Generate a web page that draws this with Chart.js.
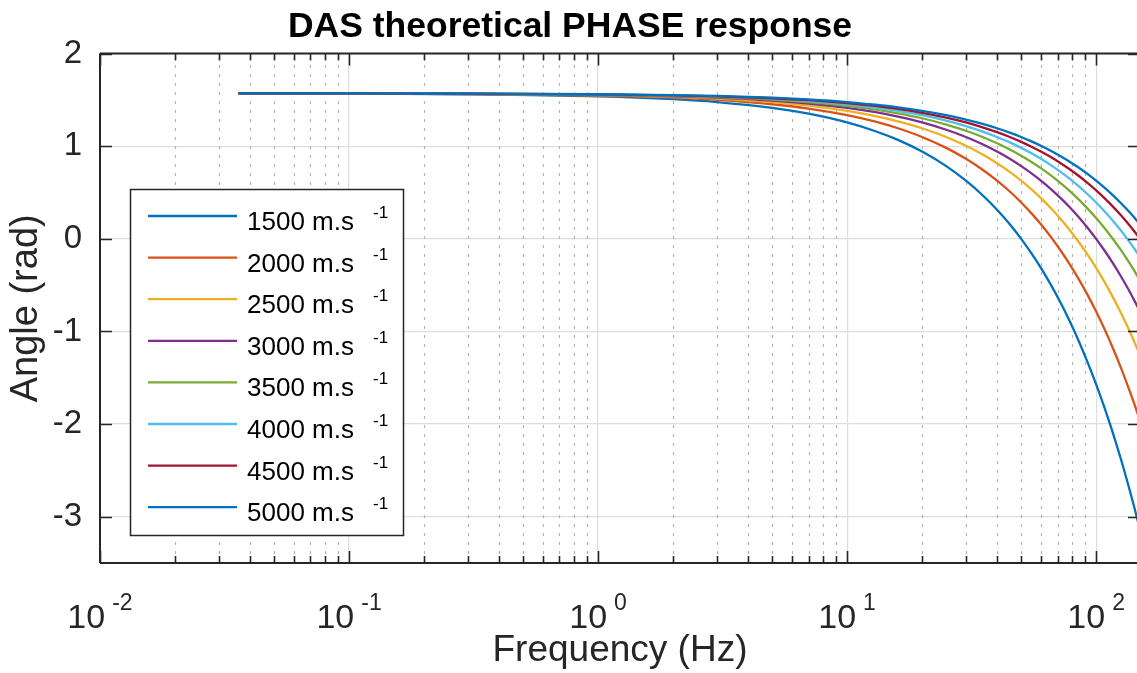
<!DOCTYPE html>
<html>
<head>
<meta charset="utf-8">
<script src="https://cdn.jsdelivr.net/npm/chart.js@4.4.1/dist/chart.umd.min.js"></script>
<style>
html, body { margin: 0; padding: 0; background: #ffffff; overflow: hidden; width: 1137px; height: 673px; }
#wrap { position: absolute; left: 0; top: 0; width: 1140px; height: 673px; }
</style>
</head>
<body>
<div id="wrap"><canvas id="chart" width="1140" height="673"></canvas></div>
<script>
// ---------- data ----------
const frequencyHz = [0.036, 0.1, 0.3, 1, 2, 3, 5, 7, 10, 13, 16, 20, 25, 30, 35, 40, 45, 50, 55, 60, 66, 72, 78, 85, 92, 100, 108, 116, 125, 134, 142, 150];

const speeds = [1500, 2000, 2500, 3000, 3500, 4000, 4500, 5000];
const speedUnit = 'm.s';
const speedUnitExponent = '-1';

const phase1500 = [1.570, 1.568, 1.561, 1.539, 1.508, 1.477, 1.414, 1.351, 1.257, 1.162, 1.068, 0.942, 0.785, 0.628, 0.471, 0.314, 0.157, 0.000, -0.157, -0.314, -0.503, -0.691, -0.880, -1.100, -1.320, -1.571, -1.822, -2.073, -2.356, -2.639, -2.890, -3.142];
const phase2000 = [1.570, 1.568, 1.564, 1.547, 1.524, 1.500, 1.453, 1.406, 1.335, 1.265, 1.194, 1.100, 0.982, 0.864, 0.746, 0.628, 0.511, 0.393, 0.275, 0.157, 0.016, -0.126, -0.267, -0.432, -0.597, -0.785, -0.974, -1.162, -1.374, -1.587, -1.775, -1.964];
const phase2500 = [1.570, 1.569, 1.565, 1.552, 1.533, 1.514, 1.477, 1.439, 1.382, 1.326, 1.269, 1.194, 1.100, 1.005, 0.911, 0.817, 0.723, 0.628, 0.534, 0.440, 0.327, 0.214, 0.101, -0.031, -0.163, -0.314, -0.465, -0.616, -0.785, -0.955, -1.106, -1.257];
const phase3000 = [1.570, 1.569, 1.566, 1.555, 1.539, 1.524, 1.492, 1.461, 1.414, 1.367, 1.319, 1.257, 1.178, 1.100, 1.021, 0.942, 0.864, 0.785, 0.707, 0.628, 0.534, 0.440, 0.346, 0.236, 0.126, 0.000, -0.126, -0.251, -0.393, -0.534, -0.660, -0.785];
const phase3500 = [1.570, 1.569, 1.567, 1.557, 1.544, 1.530, 1.504, 1.477, 1.436, 1.396, 1.355, 1.302, 1.234, 1.167, 1.100, 1.032, 0.965, 0.898, 0.830, 0.763, 0.682, 0.601, 0.521, 0.426, 0.332, 0.224, 0.117, 0.009, -0.112, -0.233, -0.341, -0.449];
const phase4000 = [1.570, 1.570, 1.567, 1.559, 1.547, 1.535, 1.512, 1.488, 1.453, 1.418, 1.382, 1.335, 1.276, 1.217, 1.158, 1.100, 1.041, 0.982, 0.923, 0.864, 0.793, 0.723, 0.652, 0.569, 0.487, 0.393, 0.298, 0.204, 0.098, -0.008, -0.102, -0.196];
const phase4500 = [1.570, 1.570, 1.568, 1.560, 1.550, 1.539, 1.518, 1.497, 1.466, 1.435, 1.403, 1.361, 1.309, 1.257, 1.204, 1.152, 1.100, 1.047, 0.995, 0.942, 0.880, 0.817, 0.754, 0.681, 0.607, 0.524, 0.440, 0.356, 0.262, 0.168, 0.084, 0.000];
const phase5000 = [1.570, 1.570, 1.568, 1.561, 1.552, 1.543, 1.524, 1.505, 1.477, 1.448, 1.420, 1.382, 1.335, 1.288, 1.241, 1.194, 1.147, 1.100, 1.052, 1.005, 0.949, 0.892, 0.836, 0.770, 0.704, 0.628, 0.553, 0.478, 0.393, 0.308, 0.233, 0.157];

const yTickValues = [-3, -2, -1, 0, 1, 2];
const xMajorTicks = [0.01, 0.1, 1, 10, 100];
const xTickBase = '10';
const xTickExponents = ['-2', '-1', '0', '1', '2'];
const xMinorTicks = [0.02, 0.03, 0.04, 0.05, 0.06, 0.07, 0.08, 0.09,
                     0.2, 0.3, 0.4, 0.5, 0.6, 0.7, 0.8, 0.9,
                     2, 3, 4, 5, 6, 7, 8, 9,
                     20, 30, 40, 50, 60, 70, 80, 90];

const titleText = 'DAS theoretical PHASE response';
const xTitleText = 'Frequency (Hz)';
const yTitleText = 'Angle (rad)';

// ---------- styles ----------
const seriesColors = ['#0072BD', '#D95319', '#EDB120', '#7E2F8E', '#77AC30', '#4DBEEE', '#A2142F', '#0072BD'];
const FONT = '"Liberation Sans", Arial, Helvetica, sans-serif';
const AXIS_COLOR = '#262626';

const allPhases = [phase1500, phase2000, phase2500, phase3000, phase3500, phase4000, phase4500, phase5000];

const datasets = allPhases.map((vals, i) => ({
  label: speeds[i] + ' ' + speedUnit + '^' + speedUnitExponent,
  data: frequencyHz.map((f, j) => ({ x: f, y: vals[j] })),
  borderColor: seriesColors[i],
  backgroundColor: seriesColors[i],
  borderWidth: 2.3,
  pointRadius: 0,
  fill: false,
  cubicInterpolationMode: 'monotone',
  order: allPhases.length - i
}));

const matlabAxes = {
  id: 'matlabAxes',
  beforeDatasetsDraw(chart) {
    const { ctx, chartArea, scales } = chart;
    const x = scales.x;
    ctx.save();
    ctx.strokeStyle = '#b4b4b4';
    ctx.lineWidth = 1.2;
    ctx.setLineDash([3, 6]);
    xMinorTicks.forEach(v => {
      const px = Math.round(x.getPixelForValue(v)) + 0.5;
      ctx.beginPath();
      ctx.moveTo(px, chartArea.bottom);
      ctx.lineTo(px, chartArea.top);
      ctx.stroke();
    });
    ctx.restore();
  },
  afterDatasetsDraw(chart) {
    const { ctx, chartArea, scales } = chart;
    const x = scales.x, y = scales.y;
    const L = chartArea.left, R = chartArea.right, T = chartArea.top, B = chartArea.bottom;
    ctx.save();
    ctx.setLineDash([]);
    ctx.strokeStyle = AXIS_COLOR;
    ctx.lineWidth = 2;
    ctx.beginPath();
    ctx.moveTo(L, T); ctx.lineTo(R, T);
    ctx.moveTo(L, B); ctx.lineTo(R, B);
    ctx.moveTo(L, T); ctx.lineTo(L, B);
    ctx.moveTo(R, T); ctx.lineTo(R, B);
    ctx.stroke();
    ctx.lineWidth = 1.6;
    ctx.beginPath();
    xMajorTicks.forEach(v => {
      const px = Math.round(x.getPixelForValue(v)) + 0.5;
      ctx.moveTo(px, B); ctx.lineTo(px, B - 12);
      ctx.moveTo(px, T); ctx.lineTo(px, T + 12);
    });
    xMinorTicks.forEach(v => {
      const px = Math.round(x.getPixelForValue(v)) + 0.5;
      ctx.moveTo(px, B); ctx.lineTo(px, B - 7);
      ctx.moveTo(px, T); ctx.lineTo(px, T + 7);
    });
    yTickValues.forEach(v => {
      const py = Math.round(y.getPixelForValue(v)) + 0.5;
      ctx.moveTo(L, py); ctx.lineTo(L + 12, py);
      ctx.moveTo(R, py); ctx.lineTo(R - 12, py);
    });
    ctx.stroke();
    ctx.restore();
  },
  afterDraw(chart) {
    const { ctx, scales, chartArea } = chart;
    const x = scales.x;
    ctx.save();
    ctx.fillStyle = AXIS_COLOR;
    ctx.textAlign = 'left';
    ctx.textBaseline = 'alphabetic';
    const baseSize = 34, expSize = 23, gap = 7;
    xMajorTicks.forEach((v, i) => {
      const px = x.getPixelForValue(v);
      ctx.font = baseSize + 'px ' + FONT;
      const wb = ctx.measureText(xTickBase).width;
      ctx.font = expSize + 'px ' + FONT;
      const we = ctx.measureText(xTickExponents[i]).width;
      const x0 = px - (wb + gap + we) / 2;
      ctx.font = baseSize + 'px ' + FONT;
      ctx.fillText(xTickBase, x0, chartArea.bottom + 65);
      ctx.font = expSize + 'px ' + FONT;
      ctx.fillText(xTickExponents[i], x0 + wb + gap, chartArea.bottom + 47);
    });

    // legend
    const bx = 130, by = 189, bw = 273, bh = 346;
    ctx.fillStyle = '#ffffff';
    ctx.fillRect(bx, by, bw, bh);
    ctx.strokeStyle = AXIS_COLOR;
    ctx.lineWidth = 1.5;
    ctx.strokeRect(bx + 0.5, by + 0.5, bw, bh);
    const rowH = 41.6, row0 = 216;
    chart.data.datasets.forEach((ds, i) => {
      const ry = row0 + i * rowH;
      ctx.strokeStyle = ds.borderColor;
      ctx.lineWidth = 2.3;
      ctx.beginPath();
      ctx.moveTo(148, ry); ctx.lineTo(237, ry);
      ctx.stroke();
      ctx.fillStyle = '#000000';
      ctx.font = '26px ' + FONT;
      ctx.fillText(speeds[i] + ' ' + speedUnit, 247, ry + 14);
      ctx.font = '17px ' + FONT;
      ctx.fillText(speedUnitExponent, 373, ry + 2);
    });
    ctx.restore();
  }
};

new Chart(document.getElementById('chart'), {
  type: 'line',
  data: { datasets },
  options: {
    responsive: false,
    animation: false,
    devicePixelRatio: 1,
    layout: { padding: 0 },
    plugins: {
      legend: { display: false },
      tooltip: { enabled: false },
      title: {
        display: true,
        text: titleText,
        color: '#000000',
        font: { family: FONT, size: 35.5, weight: 'bold', lineHeight: 1.2 },
        padding: { top: 6, bottom: 5 }
      }
    },
    scales: {
      x: {
        type: 'logarithmic',
        min: 0.01,
        max: 150,
        afterBuildTicks: s => { s.ticks = xMajorTicks.map(v => ({ value: v, major: true })); },
        afterFit: s => { s.height = 110; },
        ticks: { display: false },
        grid: { color: '#dedede', lineWidth: 1.2, drawTicks: false },
        border: { display: false },
        title: {
          display: true,
          text: xTitleText,
          color: AXIS_COLOR,
          font: { family: FONT, size: 37, lineHeight: 1.2 },
          padding: { top: 0, bottom: 0 }
        }
      },
      y: {
        type: 'linear',
        min: -3.5,
        max: 2,
        afterBuildTicks: s => { s.ticks = yTickValues.map(v => ({ value: v })); },
        afterFit: s => { s.width = 100; },
        ticks: {
          color: AXIS_COLOR,
          font: { family: FONT, size: 33 },
          padding: 18,
          callback: v => String(v)
        },
        grid: { color: '#dedede', lineWidth: 1.2, drawTicks: false },
        border: { display: false },
        title: {
          display: true,
          text: yTitleText,
          color: AXIS_COLOR,
          font: { family: FONT, size: 38, lineHeight: 1.2 },
          padding: { top: 4, bottom: 0 }
        }
      }
    }
  },
  plugins: [matlabAxes]
});
</script>
</body>
</html>
